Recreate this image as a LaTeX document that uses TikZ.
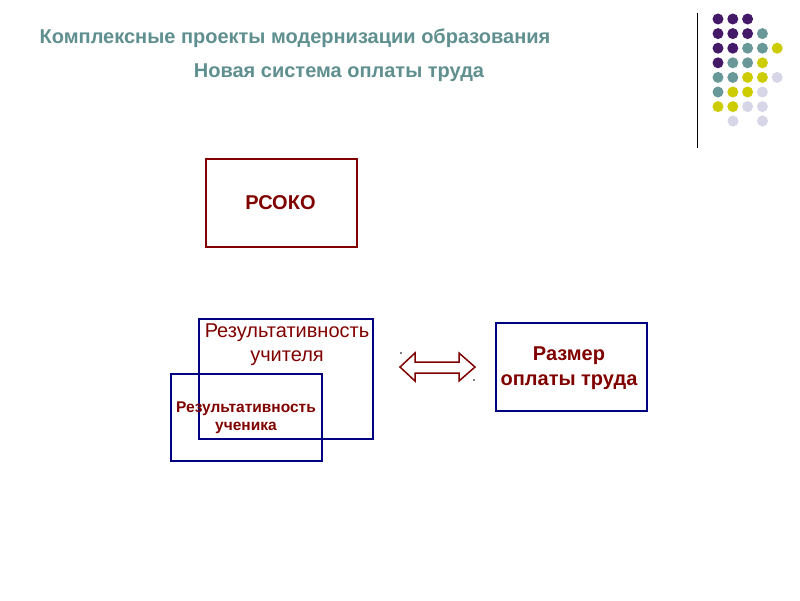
\documentclass[tikz,border=0pt]{standalone}
\usepackage{fontspec}
\setmainfont{Liberation Sans}
\definecolor{ttl}{RGB}{95,143,143}
\definecolor{mar}{RGB}{128,0,0}
\definecolor{nav}{RGB}{0,0,128}
\definecolor{dp}{RGB}{68,26,104}
\definecolor{dt}{RGB}{104,152,152}
\definecolor{dy}{RGB}{204,204,0}
\definecolor{dl}{RGB}{214,214,232}
\begin{document}
\begin{tikzpicture}[x=1pt,y=-1pt,
  redbox/.style={draw=mar,line width=2pt,inner sep=0pt},
  bluebox/.style={draw=nav,line width=2pt,inner sep=0pt},
  ttltext/.style={text=ttl,font=\bfseries\fontsize{20}{24}\selectfont},
  boxtext/.style={text=mar,align=center},
  dot/.style={circle,inner sep=0pt,minimum size=11pt}]
\useasboundingbox[fill=white] (0,0) rectangle (800,600);
% titles
\node[ttltext] (t1) at (295,38) {Комплексные проекты модернизации образования};
\node[ttltext] (t2) at (339,72.5) {Новая система оплаты труда};
% decoration
\draw[black,line width=1pt] (697,13) -- (697,148);
\foreach \row/\cols in {0/{dp,dp,dp},1/{dp,dp,dp,dt},2/{dp,dp,dt,dt,dy},3/{dp,dt,dt,dy},4/{dt,dt,dy,dy,dl},5/{dt,dy,dy,dl},6/{dy,dy,dl,dl}}{
  \foreach \c [count=\i from 0] in \cols {
    \node[dot,fill=\c] at (718+14.8*\i,19+14.6*\row) {};
  }
}
\node[dot,fill=dl] at (733,121) {};
\node[dot,fill=dl] at (762.5,121) {};
% boxes
\node[redbox,minimum width=151pt,minimum height=88pt] (rsoko) at (281.5,203) {};
\node[boxtext,font=\bfseries\fontsize{20}{24}\selectfont] at (280.5,203) {РСОКО};
\node[bluebox,minimum width=174pt,minimum height=120pt] (teach) at (286,379) {};
\node[boxtext,font=\fontsize{20}{24}\selectfont] (teachtxt) at (287,345) {Результативность\\учителя};
\node[bluebox,minimum width=151pt,minimum height=87pt] (stud) at (246.5,417.5) {};
\node[boxtext,font=\bfseries\fontsize{15.5}{17.5}\selectfont] (studtxt) at (246,418) {Результативность\\ученика};
\node[bluebox,minimum width=151pt,minimum height=88pt] (size) at (571.5,367) {};
\node[boxtext,font=\bfseries\fontsize{20}{25}\selectfont] (sizetxt) at (569,368) {Размер\\оплаты труда};
% double arrow
\draw[mar,line width=1.5pt,line join=miter] (400,367) -- (415,353) -- (415,362) -- (459,362) -- (459,353) -- (475,367) -- (459,381) -- (459,373) -- (415,373) -- (415,381) -- cycle;
\fill[black] (401,353) circle (0.8);
\fill[black] (474,380) circle (0.8);
\end{tikzpicture}
\end{document}
